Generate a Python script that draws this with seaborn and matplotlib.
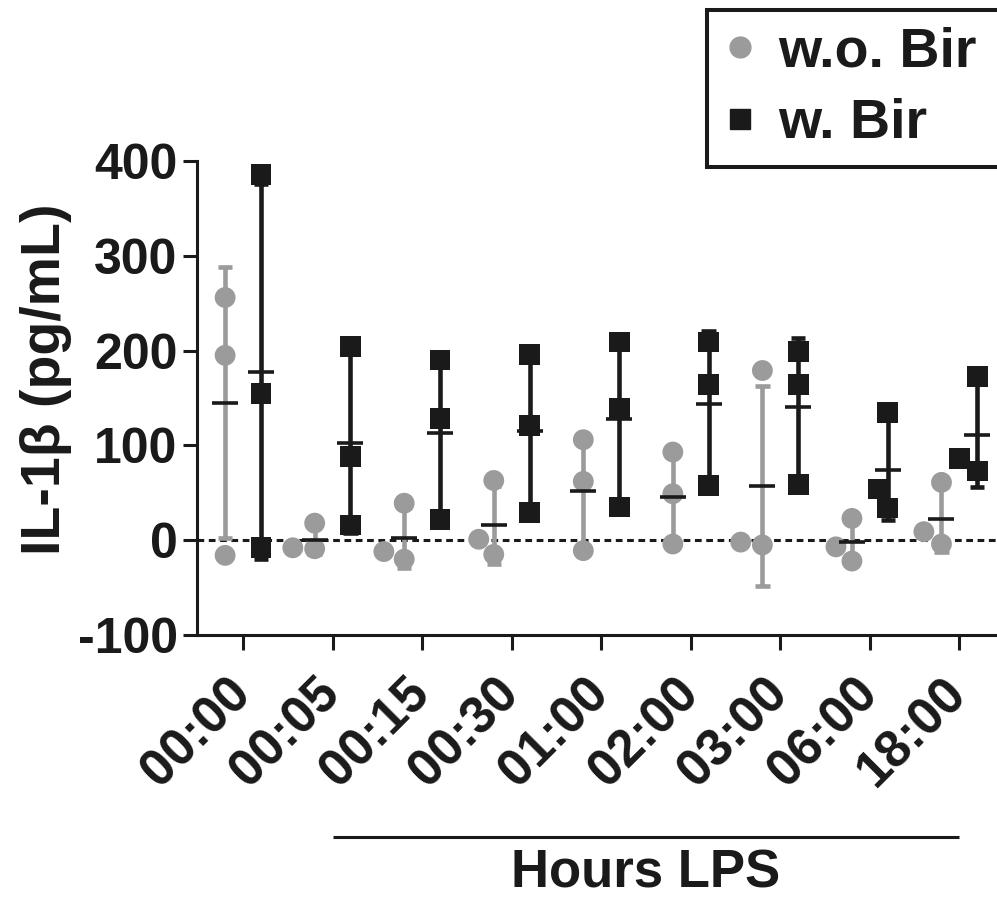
import numpy as np
import pandas as pd
import matplotlib
matplotlib.use("Agg")
import matplotlib.pyplot as plt
import seaborn as sns
from matplotlib.lines import Line2D
from matplotlib import transforms

# ---------------- data ----------------
time_labels = ["00:00", "00:05", "00:15", "00:30", "01:00", "02:00", "03:00", "06:00", "18:00"]
groups = ["w.o. Bir", "w. Bir"]
wo_bir_values = [
    [256, 195, -16],
    [18, -8, -9],
    [39, -12, -20],
    [63, 1, -15],
    [106, 62, -11],
    [93, 49, -4],
    [179, -2, -5],
    [23, -7, -22],
    [61, 9, -4],
]
w_bir_values = [
    [386, 155, -8],
    [204, 88, 16],
    [190, 128, 22],
    [196, 121, 29],
    [209, 139, 35],
    [209, 164, 58],
    [199, 164, 59],
    [135, 54, 34],
    [173, 86, 73],
]
y_ticks = [-100, 0, 100, 200, 300, 400]
x_title = "Hours LPS"
y_title = "IL-1β (pg/mL)"

gray = "#9b9b9b"
black = "#1a1a1a"
group_colors = [gray, black]
group_markers = ["o", "s"]

rows = []
for g, vals in zip(groups, [wo_bir_values, w_bir_values]):
    for t, reps in zip(time_labels, vals):
        for v in reps:
            rows.append({"time": t, "group": g, "value": v})
df = pd.DataFrame(rows)

# ---------------- style ----------------
sns.set_theme(style="ticks")
plt.rcParams["font.family"] = ["Liberation Sans", "DejaVu Sans"]
plt.rcParams["font.weight"] = "bold"
plt.rcParams["axes.labelweight"] = "bold"

W, H = 997, 897
fig = plt.figure(figsize=(W / 100, H / 100), dpi=100)
ax = fig.add_axes([197 / W, 1 - 635 / H, 1 - 197 / W, (635 - 161) / H])

palette = dict(zip(groups, group_colors))

# dotted zero line
ax.axhline(0, color=black, lw=2.2, ls=(0, (2.2, 1.5)), zorder=0.5)

# error bars (mean +/- SD)
n0 = len(ax.lines)
sns.pointplot(data=df, x="time", y="value", hue="group", order=time_labels,
              hue_order=groups, palette=palette, estimator="mean", errorbar="sd",
              dodge=0.4, markers=["", ""], linestyles=["none", "none"],
              capsize=0.16, err_kws={"linewidth": 3.3}, legend=False, ax=ax)
for ln in ax.lines[n0:]:
    ln.set_zorder(1.5)
    ln.set_solid_capstyle("butt")

# individual replicates
for g, mk in zip(groups, group_markers):
    sub = df[df["group"] == g]
    sns.swarmplot(data=sub, x="time", y="value", hue="group", order=time_labels,
                  hue_order=groups, palette=palette, dodge=True, marker=mk,
                  size=15, linewidth=0, legend=False, ax=ax, zorder=3)

# mean bars
n1 = len(ax.lines)
sns.pointplot(data=df, x="time", y="value", hue="group", order=time_labels,
              hue_order=groups, palette={g: black for g in groups},
              estimator="mean", errorbar=None, dodge=0.4,
              markers=["_", "_"], linestyles=["none", "none"],
              markersize=19, markeredgewidth=2.6, legend=False, ax=ax)
for ln in ax.lines[n1:]:
    ln.set_zorder(4)

# ---------------- axes ----------------
ax.set_ylim(y_ticks[0], y_ticks[-1])
ax.set_yticks(y_ticks)
ax.set_yticklabels([str(v) for v in y_ticks], fontsize=36, fontweight="bold")
ax.set_xticks(range(len(time_labels)))
ax.set_xticklabels(time_labels, rotation=45, ha="right", va="center",
                   rotation_mode="anchor", fontsize=37, fontweight="bold")
ax.set_xlim(-0.514, 8.42)
sns.despine(ax=ax)
for s in ["left", "bottom"]:
    ax.spines[s].set_linewidth(2.2)
    ax.spines[s].set_color(black)
ax.tick_params(axis="y", length=10, width=2.2, pad=4, colors=black)
ax.tick_params(axis="x", length=11, width=2.2, pad=26, colors=black)

ax.set_xlabel("")
ax.set_ylabel(y_title, fontsize=40, fontweight="bold", color=black)
ax.yaxis.set_label_coords(-0.156, 0.54)

# bracket line + "Hours LPS"
trans = transforms.blended_transform_factory(ax.transData, fig.transFigure)
i0, i1 = time_labels.index("00:05"), len(time_labels) - 1
ax.plot([i0, i1], [1 - 837 / H] * 2, transform=trans, color=black, lw=2.2,
        clip_on=False, solid_capstyle="butt")
ax.text((i0 + i1) / 2, 1 - 887 / H, x_title, transform=trans, ha="center",
        va="baseline", fontsize=38, fontweight="bold", color=black)

# legend
handles = [Line2D([], [], marker=m, ls="none", color=c, markersize=15)
           for m, c in zip(group_markers, group_colors)]
leg = fig.legend(handles, groups, loc="upper left", mode="expand",
                 bbox_to_anchor=(707 / W, 0, 0.35, 1 - 10 / H),
                 borderaxespad=0, prop={"weight": "bold", "size": 40},
                 frameon=True, fancybox=False, framealpha=1,
                 handlelength=0.6, handletextpad=0.38, borderpad=0.3,
                 labelspacing=0.35)
leg.get_frame().set_edgecolor(black)
leg.get_frame().set_linewidth(2.9)
for t in leg.get_texts():
    t.set_color(black)

fig.savefig("out.png", dpi=100)
